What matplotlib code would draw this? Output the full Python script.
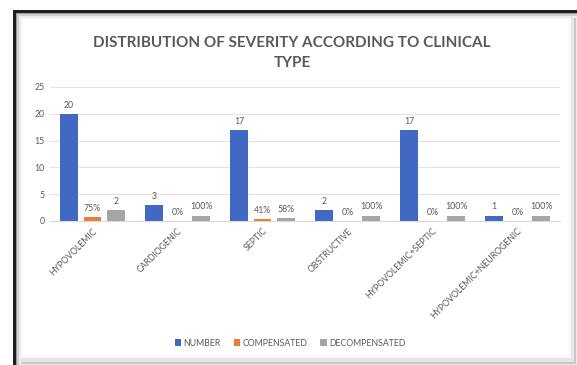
import matplotlib.pyplot as plt
import matplotlib.patches as patches
import numpy as np

plt.rcParams['font.family'] = ['Lato', 'DejaVu Sans']

categories = ['HYPOVOLEMIC', 'CARDIOGENIC', 'SEPTIC', 'OBSTRUCTIVE',
              'HYPOVOLEMIC+SEPTIC', 'HYPOVOLEMIC+NEUROGENIC']
number = [20, 3, 17, 2, 17, 1]
compensated = [0.75, 0, 0.41, 0, 0, 0]
decompensated = [2, 1, 0.58, 1, 1, 1]
number_labels = ['20', '3', '17', '2', '17', '1']
comp_labels = ['75%', '0%', '41%', '0%', '0%', '0%']
decomp_labels = ['2', '100%', '58%', '100%', '100%', '100%']
yticks = [0, 5, 10, 15, 20, 25]

W, H = 577, 365
fig = plt.figure(figsize=(W / 100, H / 100), dpi=100)


def rect(x0, y0, x1, y1, color, z=-5):
    # pixel coords, y from top
    fig.patches.append(patches.Rectangle((x0 / W, 1 - y1 / H), (x1 - x0) / W, (y1 - y0) / H,
                                         transform=fig.transFigure, facecolor=color,
                                         edgecolor='none', zorder=z))


# framed screenshot look: black top/left edge, soft grey right/bottom edge
rect(13, 10, W, H, '#1e1e1e', -9)
rect(16, 13, W, H, '#9a9a9a', -8)
rect(17, 14, W, H, '#cfcfcf', -7)
rect(19, 16, W, H, '#ececec', -6)
rect(21, 18, 576, 364, '#c8c8c8', -5)
rect(21, 18, 574, 362, '#e6e6e6', -4)
rect(21, 18, 571, 358, '#f7f7f7', -3)
rect(22, 19, 569, 355, 'white', -2)

ax = fig.add_axes([50 / W, 1 - 221 / H, 510 / W, 134 / H])
ax.set_facecolor('none')

x = np.arange(len(categories))
w = 0.21
off = 0.276
b1 = ax.bar(x - off, number, w, color='#4169c4', label='NUMBER', zorder=2)
b2 = ax.bar(x, compensated, w, color='#ed7d31', label='COMPENSATED', zorder=2)
b3 = ax.bar(x + off, decompensated, w, color='#a5a5a5', label='DECOMPENSATED', zorder=2)

for bars, labels in [(b1, number_labels), (b2, comp_labels), (b3, decomp_labels)]:
    for bar, lab in zip(bars, labels):
        ax.annotate(lab, (bar.get_x() + bar.get_width() / 2, bar.get_height()),
                    xytext=(0, 3), textcoords='offset points', ha='center', va='bottom',
                    fontsize=6.3, color='#595959')

ax.set_ylim(0, 25)
ax.set_xlim(-0.5, len(categories) - 0.5)
ax.set_yticks(yticks)
ax.yaxis.grid(True, color='#e3e3e3', linewidth=0.8, zorder=0)
ax.set_axisbelow(True)
for s in ['top', 'right', 'left']:
    ax.spines[s].set_visible(False)
ax.spines['bottom'].set_color('#d9d9d9')
ax.tick_params(axis='both', length=0, labelsize=6.3, colors='#595959', pad=4)
ax.set_xticks(x)
ax.set_xticklabels(categories, rotation=45, ha='right', rotation_mode='anchor')

fig.text(292 / W, 1 - 53 / H, 'DISTRIBUTION OF SEVERITY ACCORDING TO CLINICAL\nTYPE',
         ha='center', va='center', fontsize=11, fontweight='bold', color='#595959',
         linespacing=1.55)

fig.legend(handles=[b1, b2, b3], loc='center', bbox_to_anchor=(290 / W, 1 - 343 / H),
           ncol=3, frameon=False, fontsize=6.3, labelcolor='#595959',
           handlelength=0.7, handleheight=0.7, handletextpad=0.3, columnspacing=1.5)

fig.savefig('out.png', dpi=100)
